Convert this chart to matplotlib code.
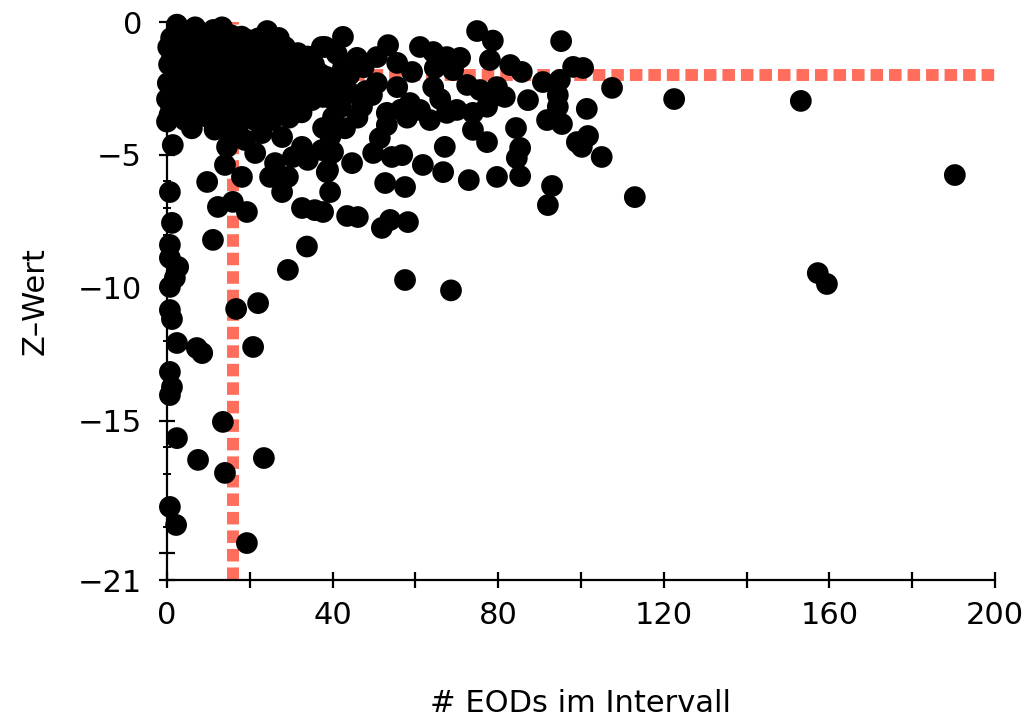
import matplotlib.pyplot as plt
import numpy as np

plt.rcParams['font.family'] = ['DejaVu Sans']

# number of EODs in the interval (x) and z-score (y)
eods = [
    # dense core near the origin
    2.4, 4.6, 6.8, 9.0, 11.2, 13.3, 15.5, 19.6, 24.2,
    1.0, 5.5, 10.0, 14.5, 18.0, 22.0, 27.0,
    0.3, 2.1, 4.0, 6.1, 8.2, 10.2, 12.3, 14.2, 17.0, 20.1, 22.8, 26.0, 28.5, 31.6, 34.0, 37.4,
    1.2, 5.2, 9.2, 13.2, 16.0, 19.0, 24.5, 29.5, 33.0,
    0.5, 2.6, 4.6, 7.0, 9.5, 12.0, 14.5, 17.5, 21.0, 24.0, 27.0, 30.0, 32.6, 35.5,
    2.0, 5.0, 10.0, 15.0, 20.0, 23.5, 26.5, 29.0, 37.0,
    0.2, 1.5, 3.5, 6.0, 8.5, 11.0, 13.5, 16.0, 19.0, 22.0, 25.0, 28.0, 31.0, 34.0, 36.2,
    2.0, 7.0, 12.0, 17.5, 20.5, 23.5, 26.5, 29.5, 33.0,
    0.0, 1.0, 3.0, 5.5, 8.0, 10.5, 13.0, 15.5, 18.5, 21.5, 24.5, 27.5, 30.5, 35.0,
    2.5, 11.5, 15.0, 19.5, 23.0, 27.0,
    0.0, 0.6, 4.3, 7.0, 9.9, 13.3, 17.1, 21.3, 25.4, 29.5, 32.5,
    6.0, 11.5, 15.0,
    # left column and low outliers
    1.4, 0.7, 1.2, 0.7, 0.7, 2.7, 1.9, 0.7, 0.7, 1.2, 2.4, 7.2, 8.5, 20.8,
    0.7, 1.2, 0.7, 13.5, 2.4, 7.5, 14.0, 23.4, 0.7, 2.2, 19.3,
    11.1, 16.7, 22.0, 29.2, 33.8,
    # middle band
    9.7, 12.3, 15.9, 19.3, 14.0, 18.1, 14.5, 24.9, 29.2, 27.8, 32.6, 35.7, 34.0,
    38.9, 30.4, 26.1, 21.3, 18.8, 22.9, 27.8, 32.6, 37.4, 39.9,
    # 37 - 80
    42.5, 74.9, 78.7, 38.2, 53.4, 61.1, 64.3, 67.6, 70.8, 45.9, 50.7, 55.6, 59.2,
    64.7, 69.1, 78.0, 42.5, 38.6, 50.7, 55.6, 64.3, 72.5, 75.6, 79.7, 44.2, 37.7,
    47.1, 58.7, 61.1, 63.5, 67.6, 70.0, 73.9, 77.3, 40.1, 37.7, 53.1, 53.1, 51.4,
    49.8, 73.9, 77.3, 67.1, 40.1, 44.7, 38.6, 54.3, 56.8, 61.8, 66.7, 72.9, 79.7,
    52.7, 57.5, 39.4, 37.7, 43.5, 46.1, 51.9, 53.9, 58.2, 57.5, 68.6,
    41.0, 44.0, 40.0, 46.0, 43.0, 48.0, 49.5, 56.5, 58.0, 66.0,
    40.5, 47.5, 42.0, 39.5,
    # 80 - 115
    95.2, 82.9, 85.7, 90.8, 94.9, 98.1, 100.5, 107.5, 78.7, 81.6, 87.2, 94.4,
    94.4, 101.4, 91.8, 95.4, 84.3, 85.3, 84.5, 99.0, 101.7, 100.2, 105.0, 85.3,
    93.0, 92.0, 113.0,
    # far right
    122.5, 153.1, 190.3, 157.2, 159.4,
]

zwert = [
    -0.10, -0.35, -0.20, -0.45, -0.30, -0.20, -0.50, -0.68, -0.34,
    -0.60, -0.65, -0.60, -0.70, -0.55, -0.62, -0.60,
    -0.95, -1.10, -0.90, -1.20, -0.95, -1.15, -0.90, -1.25, -1.00, -1.20, -0.95, -1.10, -0.94, -1.17, -1.30, -0.94,
    -1.35, -1.30, -1.35, -1.40, -1.30, -1.40, -1.35, -1.40, -1.45,
    -1.60, -1.75, -1.50, -1.80, -1.55, -1.70, -1.60, -1.85, -1.55, -1.75, -1.60, -1.90, -1.81, -1.60,
    -2.00, -2.00, -1.95, -2.05, -2.00, -2.00, -2.05, -2.00, -1.95,
    -2.30, -2.10, -2.45, -2.20, -2.50, -2.25, -2.40, -2.15, -2.45, -2.20, -2.50, -2.30, -2.55, -2.20, -2.50,
    -2.65, -2.70, -2.65, -2.70, -2.65, -2.75, -2.70, -2.70, -2.65,
    -2.90, -3.20, -2.85, -3.10, -2.90, -3.20, -2.95, -3.15, -2.85, -3.00, -3.20, -2.90, -3.15, -2.94,
    -3.40, -3.40, -3.45, -3.40, -3.40, -3.45,
    -3.75, -3.50, -3.69, -3.40, -3.58, -3.80, -3.95, -3.70, -3.69, -3.60, -3.40,
    -4.00, -4.05, -4.10,
    -4.63, -6.40, -7.56, -8.39, -8.88, -9.22, -9.63, -9.97, -10.84, -11.18, -12.08, -12.27, -12.46, -12.23,
    -13.17, -13.74, -14.04, -15.05, -15.66, -16.48, -16.97, -16.41, -18.25, -18.93, -19.61,
    -8.20, -10.80, -10.58, -9.33, -8.45,
    -6.02, -6.96, -6.77, -7.15, -5.38, -5.83, -4.70, -5.83, -5.83, -6.40, -7.00, -7.08, -5.19,
    -5.57, -5.08, -5.31, -4.93, -4.44, -4.18, -4.33, -4.70, -4.82, -4.93,
    -0.56, -0.34, -0.70, -0.94, -0.87, -0.94, -1.13, -1.32, -1.35, -1.35, -1.32, -1.54, -1.88,
    -1.73, -1.81, -1.43, -1.73, -2.07, -2.30, -2.45, -2.45, -2.37, -2.56, -2.45, -2.67, -2.82,
    -3.19, -3.05, -3.31, -3.69, -3.42, -3.31, -3.42, -3.19, -3.58, -3.99, -3.42, -3.88, -4.37,
    -4.93, -4.06, -4.52, -4.70, -4.89, -5.31, -5.65, -5.08, -5.01, -5.38, -5.65, -5.95, -5.83,
    -6.06, -6.21, -6.40, -7.15, -7.30, -7.34, -7.75, -7.45, -7.53, -9.71, -10.10,
    -1.20, -2.00, -2.90, -3.60, -4.00, -2.60, -2.75, -3.30, -3.60, -2.90,
    -2.40, -1.70, -3.20, -4.30,
    -0.72, -1.62, -1.88, -2.26, -2.18, -1.69, -1.73, -2.48, -2.82, -2.82, -2.94, -2.75,
    -3.19, -3.27, -3.69, -3.84, -3.99, -4.74, -5.12, -4.52, -4.29, -4.70, -5.08, -5.80,
    -6.17, -6.89, -6.59,
    -2.90, -2.97, -5.76, -9.45, -9.86,
]

# thresholds (red dashed lines)
x_thresh = 16
z_thresh = -1.98

fig = plt.figure(figsize=(10.26, 7.2), dpi=100)
ax = fig.add_axes([167/1026, 1 - 580/720, 828/1026, 558/720])

red = '#ff6e5c'
dash = (0, (1.05, 0.5))
ax.plot([x_thresh, x_thresh], [-21, 0], color=red, lw=8.6, ls=dash,
        dash_capstyle='butt', zorder=1, clip_on=False)
ax.plot([0, 200], [z_thresh, z_thresh], color=red, lw=8.6, ls=dash,
        dash_capstyle='butt', zorder=1, clip_on=False)

ax.scatter(eods, zwert, s=245, c='black', edgecolors='none', zorder=3, clip_on=False)

ax.set_xlim(0, 200)
ax.set_ylim(-21, 0)

for side in ['top', 'right']:
    ax.spines[side].set_visible(False)
for side in ['left', 'bottom']:
    ax.spines[side].set_linewidth(1.6)

xt = np.arange(0, 201, 20)
ax.set_xticks(xt)
ax.set_xticklabels([str(v) if v % 40 == 0 else '' for v in xt])
ax.set_yticks([0, -5, -10, -15, -20, -21])
ax.set_yticklabels(['0', '\u22125', '\u221210', '\u221215', '', '\u221221'])
ax.set_yticks(np.arange(-21, 1, 1), minor=True)

ax.tick_params(axis='both', which='major', direction='inout', length=12,
               width=1.6, labelsize=22, color='black')
ax.tick_params(axis='x', which='major', pad=9)
ax.tick_params(axis='y', which='major', pad=12)
ax.tick_params(axis='y', which='minor', direction='inout', length=6, width=1.4)

ax.set_xlabel('# EODs im Intervall', fontsize=22)
ax.set_ylabel('Z\u2013Wert', fontsize=22)
ax.xaxis.set_label_coords(0.5, (580 - 704) / 558)
ax.xaxis.label.set_va('center')
ax.yaxis.set_label_coords((35 - 167) / 828, 0.5)
ax.yaxis.label.set_va('center')

fig.savefig('out.png', dpi=100)
